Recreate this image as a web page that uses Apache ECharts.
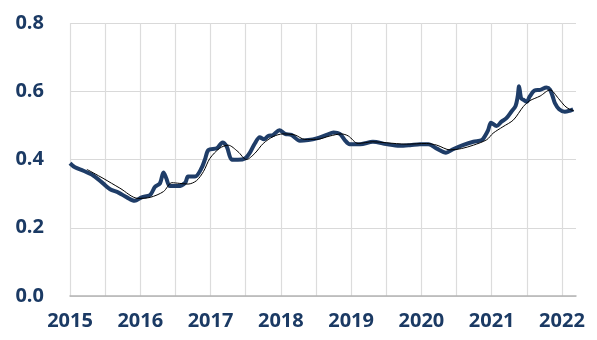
<!DOCTYPE html>
<html>
<head>
<meta charset="utf-8">
<script src="https://cdn.jsdelivr.net/npm/echarts@6/dist/echarts.min.js"></script>
<style>html,body{margin:0;padding:0;background:#fff}#c{width:597px;height:340px}</style>
</head>
<body>
<div id="c"></div>
<script>
// Decimal years and values for the main (thick) series
var mainDates = [2015.00,2015.07,2015.19,2015.33,2015.47,2015.57,2015.69,2015.81,2015.92,2016.02,2016.14,2016.21,2016.28,2016.33,2016.37,2016.42,2016.54,2016.64,2016.68,2016.78,2016.87,2016.92,2016.97,2017.09,2017.17,2017.23,2017.30,2017.39,2017.49,2017.56,2017.63,2017.70,2017.76,2017.82,2017.89,2017.98,2018.06,2018.15,2018.27,2018.39,2018.51,2018.65,2018.75,2018.84,2018.91,2018.98,2019.13,2019.31,2019.50,2019.69,2019.84,2019.98,2020.10,2020.22,2020.35,2020.45,2020.59,2020.74,2020.86,2020.90,2020.95,2020.99,2021.07,2021.14,2021.21,2021.28,2021.34,2021.37,2021.39,2021.42,2021.46,2021.50,2021.54,2021.61,2021.69,2021.78,2021.83,2021.87,2021.90,2021.96,2022.04,2022.11,2022.16];
var mainValues = [0.389,0.377,0.367,0.353,0.330,0.313,0.303,0.289,0.279,0.289,0.296,0.320,0.330,0.362,0.345,0.322,0.322,0.332,0.350,0.350,0.374,0.400,0.428,0.433,0.450,0.438,0.400,0.399,0.403,0.420,0.447,0.465,0.459,0.469,0.472,0.486,0.475,0.472,0.455,0.457,0.462,0.472,0.479,0.475,0.457,0.445,0.445,0.452,0.445,0.440,0.442,0.445,0.445,0.432,0.420,0.430,0.442,0.452,0.457,0.467,0.486,0.508,0.498,0.511,0.521,0.540,0.557,0.584,0.615,0.579,0.574,0.569,0.584,0.602,0.604,0.611,0.605,0.584,0.565,0.547,0.540,0.543,0.547];
// Decimal years and values for the thin (average) series
var avgDates = [2015.24,2015.47,2015.71,2015.97,2016.14,2016.33,2016.45,2016.56,2016.68,2016.80,2016.90,2016.99,2017.13,2017.25,2017.39,2017.51,2017.63,2017.75,2017.89,2018.03,2018.20,2018.34,2018.51,2018.70,2018.86,2018.96,2019.10,2019.31,2019.50,2019.79,2020.07,2020.22,2020.41,2020.57,2020.74,2020.93,2021.02,2021.16,2021.31,2021.45,2021.54,2021.69,2021.83,2021.95,2022.04,2022.11,2022.17];
var avgValues = [0.371,0.345,0.316,0.286,0.289,0.306,0.332,0.330,0.328,0.338,0.365,0.403,0.433,0.442,0.423,0.400,0.418,0.447,0.467,0.475,0.472,0.459,0.459,0.469,0.475,0.469,0.447,0.452,0.449,0.445,0.447,0.442,0.428,0.432,0.442,0.458,0.477,0.496,0.516,0.555,0.572,0.586,0.604,0.579,0.557,0.547,0.543];
var yTicks = [0, 0.2, 0.4, 0.6, 0.8];
var xYears = [2015, 2016, 2017, 2018, 2019, 2020, 2021, 2022];

function zip(a, b) { return a.map(function (x, i) { return [x, b[i]]; }); }

var labelStyle = { color: '#1b3a64', fontSize: 20, fontWeight: 'bold', fontFamily: 'Open Sans' };
var chart = echarts.init(document.getElementById('c'), null, { renderer: 'canvas' });
chart.setOption({
  animation: false,
  grid: { left: 70, right: 21, top: 23, bottom: 44 },
  xAxis: {
    type: 'value', min: xYears[0], max: 2022.2, interval: 0.5,
    axisLine: { show: true, lineStyle: { color: '#b4b4b4', width: 1.5 } },
    axisTick: { show: false },
    splitLine: { show: true, showMaxLine: false, lineStyle: { color: '#dcdcdc', width: 1.2 } },
    axisLabel: Object.assign({ margin: 15, showMaxLabel: false, formatter: function (v) {
      return xYears.indexOf(v) >= 0 ? String(v) : '';
    } }, labelStyle)
  },
  yAxis: {
    type: 'value', min: yTicks[0], max: yTicks[yTicks.length - 1], interval: 0.2,
    axisLine: { show: false }, axisTick: { show: false },
    splitLine: { lineStyle: { color: '#d9d9d9', width: 1.2 } },
    axisLabel: Object.assign({ margin: 26, formatter: function (v) { return v.toFixed(1); } }, labelStyle)
  },
  series: [
    { type: 'line', data: zip(mainDates, mainValues), showSymbol: false, smooth: 0.3,
      lineStyle: { color: '#1f3d68', width: 4 }, z: 2 },
    { type: 'line', data: zip(avgDates, avgValues), showSymbol: false, smooth: 0.3,
      lineStyle: { color: '#000000', width: 1 }, z: 3 }
  ]
});
</script>
</body>
</html>
